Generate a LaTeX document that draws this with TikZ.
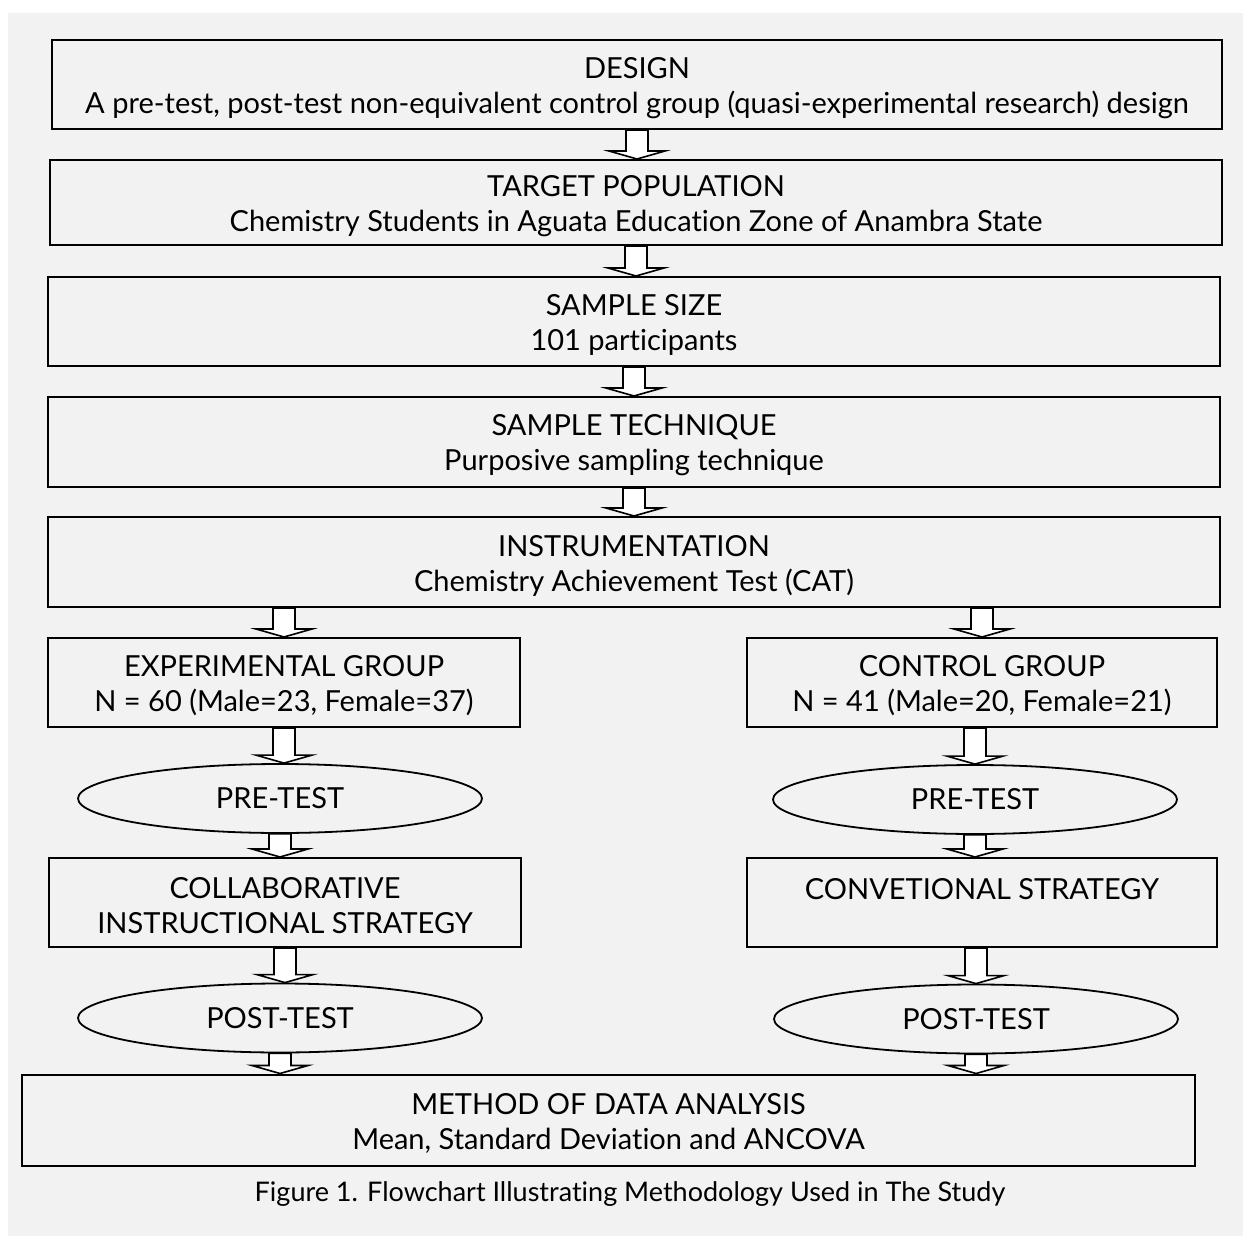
\documentclass[tikz,border=0pt]{standalone}
\usepackage{fontspec}
\setmainfont{Lato}[Ligatures=NoCommon]
\usepackage{tikz}
\usetikzlibrary{shapes.geometric,calc}

\definecolor{pagegray}{HTML}{F2F2F2}

\tikzset{
  stage/.style={draw=black, line width=2pt, align=center, inner sep=0pt,
    font=\fontsize{29}{35}\selectfont, text height=63pt},
  phase/.style={draw=black, line width=1.8pt, ellipse, inner sep=0pt,
    minimum width=404, minimum height=69, font=\fontsize{29}{35}\selectfont},
  blockarrow/.style={draw=black, fill=white, line width=1.6pt, line join=miter}
}

% hollow block arrow from point #1 down to point #2
\newcommand{\flowarrow}[2]{%
  \path let \p1=(#1), \p2=(#2) in [blockarrow]
    (\x1-11pt,\y1) -- (\x1-11pt,\y2+8pt) -- (\x1-28pt,\y2+8pt) -- (\x1,\y2)
    -- (\x1+28pt,\y2+8pt) -- (\x1+11pt,\y2+8pt) -- (\x1+11pt,\y1) -- cycle;}

\begin{document}
\begin{tikzpicture}[x=1pt, y=-1pt]
\useasboundingbox (0,0) rectangle (1243,1236);
\fill [pagegray] (8,13) rectangle (1260,1250);

\node [stage, minimum width=1170, minimum height=89] (design) at (637,84.5)
  {DESIGN\\A pre-test, post-test non-equivalent control group (quasi-experimental research) design};
\node [stage, minimum width=1172, minimum height=85] (target) at (636,202.5)
  {TARGET POPULATION\\Chemistry Students in Aguata Education Zone of Anambra State};
\node [stage, minimum width=1172, minimum height=89] (sample) at (634,321.5)
  {SAMPLE SIZE\\101 participants};
\node [stage, minimum width=1172, minimum height=90] (technique) at (634,442)
  {SAMPLE TECHNIQUE\\Purposive sampling technique};
\node [stage, minimum width=1172, minimum height=90] (instrument) at (634,562)
  {INSTRUMENTATION\\Chemistry Achievement Test (CAT)};

\node [stage, minimum width=472, minimum height=89] (expgroup) at (284,682.5)
  {EXPERIMENTAL GROUP\\N = 60 (Male=23, Female=37)};
\node [stage, minimum width=470, minimum height=89] (ctrlgroup) at (982,682.5)
  {CONTROL GROUP\\N = 41 (Male=20, Female=21)};

\node [phase] (exppre) at (280,798.5) {PRE-TEST};
\node [phase] (ctrlpre) at (975,799.5) {PRE-TEST};

\node [stage, minimum width=472, minimum height=89] (expstrat) at (285,902.5)
  {COLLABORATIVE\\INSTRUCTIONAL STRATEGY};
\node [stage, minimum width=470, minimum height=89] (ctrlstrat) at (982,902.5)
  {CONVETIONAL STRATEGY\\\mbox{}};

\node [phase] (exppost) at (280,1018) {POST-TEST};
\node [phase] (ctrlpost) at (976,1019) {POST-TEST};

\node [stage, minimum width=1173, minimum height=91] (analysis) at (608.5,1120)
  {METHOD OF DATA ANALYSIS\\Mean, Standard Deviation and ANCOVA};

\node (caption) at (630,1194)
  {\fontsize{27}{32}\selectfont Figure 1. Flowchart Illustrating Methodology Used in The Study};

% arrows
\flowarrow{design.south}{target.north}
\flowarrow{target.south}{sample.north}
\flowarrow{sample.south}{technique.north}
\flowarrow{technique.south}{instrument.north}
\flowarrow{instrument.south -| expgroup.north}{expgroup.north}
\flowarrow{instrument.south -| ctrlgroup.north}{ctrlgroup.north}
\flowarrow{expgroup.south}{exppre.north -| expgroup.south}
\flowarrow{ctrlgroup.south -| ctrlpre.north}{ctrlpre.north}
\flowarrow{exppre.south}{expstrat.north -| exppre.south}
\flowarrow{ctrlpre.south}{ctrlstrat.north -| ctrlpre.south}
\flowarrow{expstrat.south}{exppost.north -| expstrat.south}
\flowarrow{ctrlstrat.south -| ctrlpost.north}{ctrlpost.north}
\flowarrow{exppost.south}{analysis.north -| exppost.south}
\flowarrow{ctrlpost.south}{analysis.north -| ctrlpost.south}
\end{tikzpicture}
\end{document}
